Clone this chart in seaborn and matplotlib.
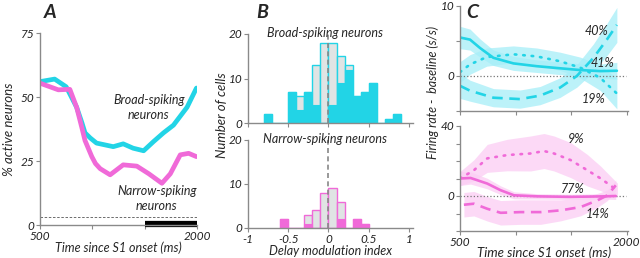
import numpy as np
import pandas as pd
import matplotlib
matplotlib.use('Agg')
import matplotlib.pyplot as plt
import seaborn as sns

# panel A: % active neurons over the delay
a_t_broad = [500, 640, 750, 800, 850, 900, 930, 980, 1040, 1200, 1295, 1390, 1490, 1585, 1680, 1775, 1905, 1995]
a_broad = [56, 57, 54, 50, 46, 40, 36, 34, 32, 30.6, 31.7, 30, 29, 32.6, 36, 39, 46, 53.5]
a_t_narrow = [500, 675, 785, 850, 900, 930, 995, 1030, 1075, 1170, 1295, 1425, 1540, 1665, 1745, 1840, 1920, 1995]
a_narrow = [55.4, 52.8, 53, 46, 38, 33, 26.7, 24, 22, 19.6, 23.5, 23, 20, 16.3, 20, 27.4, 28, 26.7]

# panel B: histograms of delay modulation index (bin left edges, width 0.1)
b_edges = [-0.8, -0.7, -0.6, -0.5, -0.4, -0.3, -0.2, -0.1, 0.0, 0.1, 0.2, 0.3, 0.4, 0.5, 0.6, 0.7, 0.8]
b_total = [2, 0, 0, 7, 6, 7, 13, 18, 18, 15, 13, 6, 7, 9, 0, 1, 2]
b_sig = [2, 0, 0, 7, 3, 7, 4, 0, 4, 9, 12, 6, 7, 9, 0, 1, 2]
n_edges = [-0.6, -0.5, -0.4, -0.3, -0.2, -0.1, 0.0, 0.1, 0.2, 0.3, 0.4]
n_total = [2, 0, 0, 3, 4, 8, 9, 6, 0, 2, 1]
n_sig = [2, 0, 0, 1, 0, 0, 0, 2, 0, 2, 1]

# panel C top (broad-spiking)
cb_t_solid = [500, 590, 680, 800, 980, 1190, 1400, 1580, 1760, 1910]
cb_solid = [5.5, 5.2, 4.0, 2.6, 1.8, 1.4, 1.1, 0.85, 0.7, 0.75]
cb_solid_err = [1.6, 1.5, 1.3, 1.1, 1.0, 0.9, 0.9, 0.9, 1.0, 1.2]
cb_t_dot = [500, 590, 740, 980, 1190, 1400, 1580, 1760, 1910]
cb_dot = [0.55, 1.65, 2.7, 3.1, 2.8, 2.1, 1.2, -0.25, -2.5]
cb_dot_err = [1.5, 1.4, 1.3, 1.2, 1.2, 1.3, 1.5, 1.8, 2.2]
cb_t_dash = [500, 590, 800, 1040, 1220, 1400, 1550, 1700, 1820, 1910]
cb_dash = [-1.4, -2.1, -3.1, -3.3, -2.8, -1.65, 0, 2.6, 5.2, 7.3]
cb_dash_err = [1.8, 1.5, 1.3, 1.3, 1.3, 1.4, 1.6, 2.0, 2.3, 2.5]

# panel C bottom (narrow-spiking)
cn_t_solid = [500, 595, 745, 865, 985, 1195, 1495, 1795, 1900]
cn_solid = [10, 10.3, 7.1, 3.3, 0.4, -0.2, -0.5, -0.2, 0]
cn_solid_err = [4, 3.5, 3, 2.5, 2, 1.5, 1.5, 1.5, 2]
cn_t_dot = [500, 625, 745, 925, 1135, 1255, 1345, 1495, 1645, 1765, 1870, 1915]
cn_dot = [10, 14.7, 21.5, 23.4, 24.3, 25.7, 24.3, 20.5, 14.7, 10, 5.2, 3.3]
cn_dot_err = [4, 6, 8, 9, 10, 10, 10, 10, 9, 7, 5, 4]
cn_t_dash = [535, 625, 745, 865, 1045, 1225, 1405, 1585, 1735, 1825, 1900]
cn_dash = [-5, -4.4, -7.3, -9.6, -9.2, -9.2, -8.2, -6.3, -2.5, 0.4, 6.1]
cn_dash_err = [7, 7, 7, 7, 7, 7, 6, 5, 4, 3, 3]

cyan = '#22d4e6'
magenta = '#f06ad8'
band_cyan = '#a6eef8'
band_mag = '#fbcdf4'
spine = '#8a8a8a'

sns.set_style('ticks')
plt.rcParams['font.family'] = ['Lato', 'DejaVu Sans']
plt.rcParams['font.style'] = 'italic'
plt.rcParams['font.size'] = 8

fig = plt.figure(figsize=(6.4, 2.58), dpi=100)


def style_axes(ax):
    sns.despine(ax=ax)
    for s in ['left', 'bottom']:
        ax.spines[s].set_color(spine)
        ax.spines[s].set_linewidth(1)
    ax.tick_params(colors=spine, labelcolor='#222222', length=3, width=0.8, labelsize=8.5, pad=1)


# ---------- A ----------
axA = fig.add_axes([40 / 640, 1 - 225 / 258, 157 / 640, 192 / 258])
sns.lineplot(x=a_t_broad, y=a_broad, ax=axA, color=cyan, lw=3.4, solid_capstyle='round')
sns.lineplot(x=a_t_narrow, y=a_narrow, ax=axA, color=magenta, lw=3.4, solid_capstyle='round')
axA.plot([500, 2000], [3.3, 3.3], ls='--', color='#555555', lw=0.6, dashes=(3, 2))
axA.plot([1500, 2000], [0.5, 0.5], color='black', lw=4.5, solid_capstyle='butt', clip_on=False)
axA.set_xlim(500, 2000)
axA.set_ylim(0, 75)
axA.set_xticks([500, 1000, 1500, 2000])
axA.set_xticklabels(['500', '', '', '2000'])
axA.set_yticks([0, 25, 50, 75])
axA.text(1540, 46, 'Broad-spiking\nneurons', ha='center', va='center', fontsize=9, linespacing=1.3)
axA.text(1615, 10.5, 'Narrow-spiking\nneurons', ha='center', va='center', fontsize=9, linespacing=1.3)
axA.set_ylabel('% active neurons', fontsize=9.5, labelpad=4)
axA.set_xlabel('Time since S1 onset (ms)', fontsize=9, labelpad=0)
style_axes(axA)
fig.text(50 / 640, 1 - 12 / 258, 'A', fontsize=14, fontweight='bold', ha='center', va='center')

# ---------- B ----------
axB1 = fig.add_axes([248 / 640, 1 - 123 / 258, 165 / 640, 89 / 258])
axB2 = fig.add_axes([248 / 640, 1 - 228 / 258, 165 / 640, 88 / 258])
for ax, edges, tot, sig, col, title in [
        (axB1, b_edges, b_total, b_sig, cyan, 'Broad-spiking neurons'),
        (axB2, n_edges, n_total, n_sig, magenta, 'Narrow-spiking neurons')]:
    ax.bar(edges, tot, width=0.1, align='edge', color='#e0e4e4', edgecolor=col, lw=1)
    ax.bar(edges, sig, width=0.1, align='edge', color=col, edgecolor=col, lw=0.8)
    ax.axvline(0, color='#888888', ls='--', lw=1.2, dashes=(3, 2))
    ax.set_xlim(-1, 1.05)
    ax.set_ylim(0, 20)
    ax.set_yticks([0, 10, 20])
    ax.set_xticks([-1, -0.5, 0, 0.5, 1])
    ax.text(-0.04, 20.3, title, ha='center', va='center', fontsize=9)
    style_axes(ax)
axB1.set_xticklabels([])
axB2.set_xticklabels(['-1', '-0.5', '0', '0.5', '1'])
axB2.set_xlabel('Delay modulation index', fontsize=9, labelpad=0)
fig.text(222 / 640, 1 - 115 / 258, 'Number of cells', rotation=90, fontsize=9.5, ha='center', va='center')
fig.text(262 / 640, 1 - 12 / 258, 'B', fontsize=14, fontweight='bold', ha='center', va='center')

# ---------- C ----------
axC1 = fig.add_axes([460 / 640, 1 - 111 / 258, 168 / 640, 105 / 258])
axC2 = fig.add_axes([460 / 640, 1 - 231 / 258, 168 / 640, 105 / 258])

dot_style = dict(ls=(0, (0.6, 2.6)), dash_capstyle='round')
dash_style = dict(ls=(0, (4, 2.5)))

for ax, col, band, series in [
        (axC1, cyan, band_cyan, [(cb_t_solid, cb_solid, cb_solid_err, {}),
                                  (cb_t_dot, cb_dot, cb_dot_err, dot_style),
                                  (cb_t_dash, cb_dash, cb_dash_err, dash_style)]),
        (axC2, magenta, band_mag, [(cn_t_solid, cn_solid, cn_solid_err, {}),
                                    (cn_t_dot, cn_dot, cn_dot_err, dot_style),
                                    (cn_t_dash, cn_dash, cn_dash_err, dash_style)])]:
    for t, y, e, st in series:
        t = np.array(t); y = np.array(y); e = np.array(e)
        ax.fill_between(t, y - e, y + e, color=band, alpha=0.75, lw=0)
    ax.axhline(0, color='#777777', ls=':', lw=0.9, xmax=0.99)
    for t, y, e, st in series:
        sns.lineplot(x=t, y=y, ax=ax, color=col, lw=1.9, **st)
    ax.set_xlim(500, 2010)
    ax.set_xticks([500, 1000, 1500, 2000])
    style_axes(ax)

axC1.set_ylim(-5, 10)
axC1.set_yticks([-5, 0, 5, 10])
axC1.set_yticklabels(['', '0', '', '10'])
axC1.set_xticklabels([])
axC1.text(1730, 6.4, '40%', ha='center', va='center', fontsize=9)
axC1.text(1780, 1.9, '41%', ha='center', va='center', fontsize=9)
axC1.text(1700, -3.3, '19%', ha='center', va='center', fontsize=9)
axC1.text(560, 9.0, 'C', fontsize=14, fontweight='bold', ha='left', va='center')

axC2.set_ylim(-20, 40)
axC2.set_yticks([-20, -10, 0, 10, 20, 30, 40])
axC2.set_yticklabels(['', '', '0', '', '', '', '40'])
axC2.set_xticklabels(['500', '', '', '2000'])
axC2.text(1540, 32.5, '9%', ha='center', va='center', fontsize=9)
axC2.text(1510, 3.8, '77%', ha='center', va='center', fontsize=9)
axC2.text(1735, -10, '14%', ha='center', va='center', fontsize=9)
axC2.set_xlabel('Time since S1 onset (ms)', fontsize=9.5, labelpad=-1)
fig.text(433 / 640, 1 - 92 / 258, 'Firing rate -  baseline (s/s)', rotation=90, fontsize=9,
         ha='center', va='center')

fig.savefig('out.png', dpi=100)
